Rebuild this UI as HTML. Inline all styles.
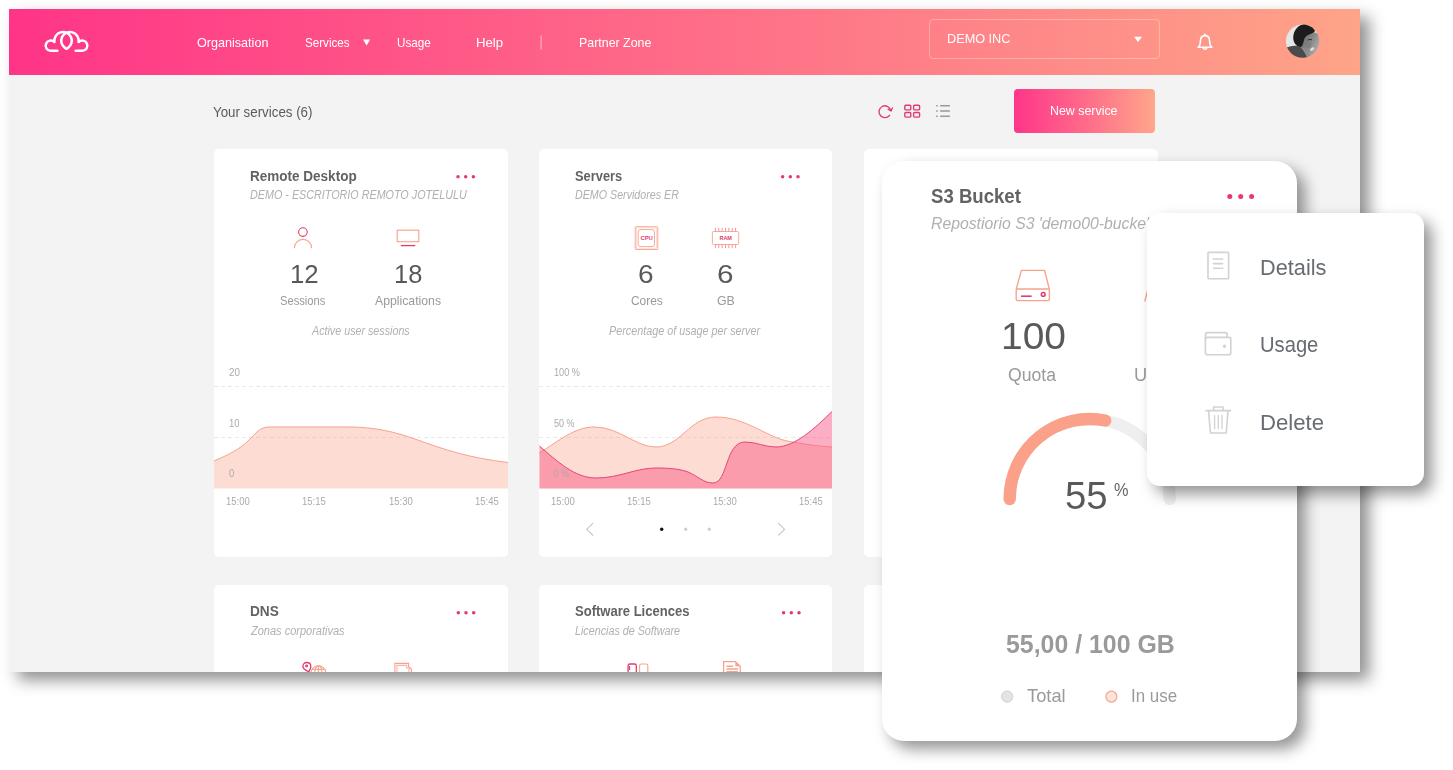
<!DOCTYPE html>
<html><head><meta charset="utf-8"><title>Services dashboard</title>
<style>
*{margin:0;padding:0;box-sizing:border-box}
html,body{width:1453px;height:770px;background:#fff;overflow:hidden}
body{position:relative;font-family:"Liberation Sans",sans-serif}
.t{position:absolute;white-space:nowrap;transform-origin:0 0;display:block;line-height:1;font-family:"Liberation Sans",sans-serif}
#frame{position:absolute;left:9px;top:9px;width:1351px;height:663px;background:#f3f3f3;overflow:hidden;box-shadow:9px 8px 15px rgba(0,0,0,.44)}
#in{position:absolute;left:-9px;top:-9px;width:1453px;height:770px}
#hdr{position:absolute;left:9px;top:9px;width:1351px;height:66px;background:linear-gradient(90deg,#ff3487 0%,#fea488 100%)}
.card{position:absolute;background:#fff;border-radius:5px}
.abs{position:absolute;left:0;top:0;overflow:visible}
#dd{position:absolute;left:929px;top:19px;width:231px;height:40px;border:1px solid rgba(255,255,255,.3);border-radius:4px}
#btn{position:absolute;left:1014px;top:89px;width:141px;height:44px;border-radius:4px;background:linear-gradient(90deg,#ff3589 0%,#ff6a8a 50%,#fea68a 100%)}
#s3{position:absolute;left:882px;top:161px;width:415px;height:580px;background:#fff;border-radius:22px;box-shadow:8px 8px 15px rgba(0,0,0,.42)}
#menu{position:absolute;left:1147px;top:213px;width:277px;height:273px;background:#fff;border-radius:13px;box-shadow:8px 8px 15px rgba(0,0,0,.42)}
</style></head>
<body>
<div id="frame"><div id="in">
<div id="hdr"></div>
<div id="dd"></div>
<div id="btn"></div>
<div class="card" style="left:214px;top:149px;width:294px;height:408px"></div>
<div class="card" style="left:539px;top:149px;width:293px;height:408px"></div>
<div class="card" style="left:864px;top:149px;width:293.5px;height:408px"></div>
<div class="card" style="left:214px;top:585px;width:294px;height:408px"></div>
<div class="card" style="left:539px;top:585px;width:293px;height:408px"></div>
<div class="card" style="left:864px;top:585px;width:293.5px;height:408px"></div>
<svg class="abs" width="1453" height="770" viewBox="0 0 1453 770">
<path d="M57.3,50.87 L50.80,50.87 A5.17,5.17 0 1 1 54.43,42.02 A8.72,8.72 0 1 1 68.00,47.88 Q66.50,49.61 65.00,47.88 A8.72,8.72 0 1 1 78.57,42.02 A5.17,5.17 0 1 1 82.20,50.87 L75.70,50.87" fill="none" stroke="#fff" stroke-width="2.5" stroke-linecap="round" stroke-linejoin="round"/>
<path d="M363,39.6 L370.2,39.6 L366.6,45.6 Z" fill="#fff"/>
<rect x="540.6" y="35.5" width="1" height="14" fill="rgba(255,255,255,.6)"/>
<path d="M1134,36.8 L1142,36.8 L1138,42 Z" fill="#fff"/>
<g fill="none" stroke="#fff" stroke-width="1.6" stroke-linejoin="round" stroke-linecap="round">
<path d="M1198.2,47.2 C1200.4,45.6 1200.4,43.5 1200.4,41.2 C1200.4,37.6 1202.3,35.6 1205,35.6 C1207.7,35.6 1209.6,37.6 1209.6,41.2 C1209.6,43.5 1209.6,45.6 1211.8,47.2 Z"/>
<path d="M1203.2,48 C1203.6,49.6 1206.4,49.6 1206.8,48"/>
<path d="M1205,35.4 L1205,34.2"/>
</g>
<defs><filter id="bl" x="-10%" y="-10%" width="120%" height="120%"><feGaussianBlur stdDeviation="0.55"/></filter><clipPath id="av"><circle cx="1302.5" cy="41.2" r="16.6"/></clipPath>
<linearGradient id="fg" x1="0" y1="0" x2="1" y2="0.6"><stop offset="0" stop-color="#5e5e5e"/><stop offset="0.6" stop-color="#8c8c8c"/><stop offset="1" stop-color="#b4b4b4"/></linearGradient></defs>
<g clip-path="url(#av)"><g transform="translate(1286,24.7)" filter="url(#bl)">
<rect x="-1" y="-1" width="36" height="36" fill="#e6e6e6"/>
<path d="M13,10 C14,6 31,5 35,12 L35,34 L20,34 C17,30 14,24 13,18 Z" fill="url(#fg)"/>
<path d="M7.4,15 C6.6,8 10,1.5 17,-0.5 C23,-1.5 28,1 29,6.5 C27,8.6 24.5,9.4 22,10.2 C19.6,11.2 18.4,13.2 17.8,16 C17.4,18.4 16.6,20.6 15,22.4 C12.4,22.6 8.4,20 7.4,15 Z" fill="#1b1b1b"/>
<path d="M-1,24 C3,21.4 8,20.6 12,21.4 C16,22.6 19,27 21.4,34 L-1,34 Z" fill="#4c4c4c"/>
<path d="M14.6,22.6 C17.4,25 19.6,29 21.4,34 L24.6,34 C23,29.6 21,26 18.4,23.6 Z" fill="#8e8e8e"/>
<ellipse cx="26.2" cy="24.4" rx="2.3" ry="1.3" fill="#e2e2e2" transform="rotate(-35 26.2 24.4)"/>
<path d="M21.6,15.4 C23,14.6 24.6,14.6 26,15.2" stroke="#2a2a2a" stroke-width="1" fill="none"/>
<ellipse cx="22.4" cy="20" rx="2.8" ry="3.4" fill="#7a7a7a" opacity=".6"/>
</g></g>
</svg>
<svg class="abs" width="1453" height="770" viewBox="0 0 1453 770">
<g fill="none" stroke="#e23b6e" stroke-width="1.4" stroke-linecap="round" stroke-linejoin="round">
<path d="M890.6,110.2 A5.9,5.9 0 1 0 889.6,115.3"/>
<path d="M888.2,109.2 L891,111 L892.4,108"/>
<rect x="904.8" y="105.3" width="6" height="4.6" rx="1"/><rect x="913.6" y="105.3" width="6" height="4.6" rx="1"/>
<rect x="904.8" y="112.5" width="6" height="4.6" rx="1"/><rect x="913.6" y="112.5" width="6" height="4.6" rx="1"/>
</g>
<g fill="none" stroke="#9a9a9a" stroke-width="1.4" stroke-linecap="round">
<path d="M940.6,105.8 H949.4 M940.6,111 H949.4 M940.6,116.2 H949.4"/>
<path d="M936.6,105.8 H937.2 M936.6,111 H937.2 M936.6,116.2 H937.2"/>
</g>
<circle cx="458.00" cy="176.7" r="1.75" fill="#e23b6e"/><circle cx="465.70" cy="176.7" r="1.75" fill="#e23b6e"/><circle cx="473.40" cy="176.7" r="1.75" fill="#e23b6e"/><circle cx="782.60" cy="176.7" r="1.75" fill="#e23b6e"/><circle cx="790.30" cy="176.7" r="1.75" fill="#e23b6e"/><circle cx="798.00" cy="176.7" r="1.75" fill="#e23b6e"/><circle cx="458.30" cy="612.7" r="1.75" fill="#e23b6e"/><circle cx="466.00" cy="612.7" r="1.75" fill="#e23b6e"/><circle cx="473.70" cy="612.7" r="1.75" fill="#e23b6e"/><circle cx="783.60" cy="612.7" r="1.75" fill="#e23b6e"/><circle cx="791.30" cy="612.7" r="1.75" fill="#e23b6e"/><circle cx="799.00" cy="612.7" r="1.75" fill="#e23b6e"/>
<g fill="none" stroke-width="1.1">
<circle cx="302.9" cy="232.1" r="4.3" stroke="#e23b6e"/>
<path d="M294.4,248.2 A8.6,8.8 0 0 1 311.6,248.2" stroke="#f7a28d"/>
<rect x="397.2" y="230.2" width="21.6" height="11.5" stroke="#f7a28d"/>
<path d="M400.9,245.6 H415.2" stroke="#e23b6e" stroke-width="1.3"/>
</g>
<g stroke="#e9e9e9" stroke-width="1" stroke-dasharray="4 3"><path d="M214,386.5 H508 M214,437.5 H508"/></g>
<path d="M214,461 C228,455 240,449 248,441 C256,433 260,427 269,427 L349,427 C375,427 395,432 415,439 C445,450 470,458 508,462.5 L508,488.6 L214,488.6 Z" fill="rgba(250,159,134,.36)"/>
<path d="M214,461 C228,455 240,449 248,441 C256,433 260,427 269,427 L349,427 C375,427 395,432 415,439 C445,450 470,458 508,462.5" fill="none" stroke="#f7a28d" stroke-width="1"/>
<g fill="none" stroke-width="0.9" stroke="#f7a28d">
<rect x="635.2" y="226.7" width="22.6" height="22.8" rx="0.6"/>
<rect x="636.4" y="227.9" width="20.2" height="20.4" rx="0.6" stroke-opacity=".45"/>
<rect x="638.2" y="229.6" width="16.3" height="17" rx="2.4"/>
<rect x="712.4" y="231.5" width="26.3" height="13" rx="1.2"/>
<path d="M715.40,227.8 V231.5 M715.40,244.5 V248.2 M718.77,227.8 V231.5 M718.77,244.5 V248.2 M722.14,227.8 V231.5 M722.14,244.5 V248.2 M725.51,227.8 V231.5 M725.51,244.5 V248.2 M728.88,227.8 V231.5 M728.88,244.5 V248.2 M732.25,227.8 V231.5 M732.25,244.5 V248.2 M735.62,227.8 V231.5 M735.62,244.5 V248.2 " stroke="#f0899a"/>
</g>
<text x="646.6" y="240" font-family="Liberation Sans" font-weight="700" font-size="5.2" fill="#e23b6e" text-anchor="middle" textLength="12.4" lengthAdjust="spacingAndGlyphs">CPU</text>
<text x="725.7" y="240" font-family="Liberation Sans" font-weight="700" font-size="5.2" fill="#e23b6e" text-anchor="middle" textLength="12.6" lengthAdjust="spacingAndGlyphs">RAM</text>
<g stroke="#e9e9e9" stroke-width="1" stroke-dasharray="4 3"><path d="M539,386.5 H832 M539,437.5 H832"/></g>
<path d="M539.4,453 C560,440 575,427 594,427 C620,427 635,447 656,447 C680,447 690,417 716,417 C745,417 765,436 787,441 C805,444.5 818,446 832,447 L832,488.6 L539.4,488.6 Z" fill="rgba(250,159,134,.36)"/>
<path d="M539.4,453 C560,440 575,427 594,427 C620,427 635,447 656,447 C680,447 690,417 716,417 C745,417 765,436 787,441 C805,444.5 818,446 832,447" fill="none" stroke="#f7a28d" stroke-width="1"/>
<path d="M539.4,446 C558,462 575,478 596,478 C620,478 635,468 656,468 C670,468 680,469 688,472 C698,476 703,483 713,483 C728,483 725,442 745,442 C757,442 764,447 776,447 C795,447 815,428 832,411.5 L832,488.6 L539.4,488.6 Z" fill="rgba(248,84,130,.47)"/>
<path d="M539.4,446 C558,462 575,478 596,478 C620,478 635,468 656,468 C670,468 680,469 688,472 C698,476 703,483 713,483 C728,483 725,442 745,442 C757,442 764,447 776,447 C795,447 815,428 832,411.5" fill="none" stroke="#e4457a" stroke-width="1"/>
<g fill="none" stroke="#c4c4c4" stroke-width="1.1" stroke-linecap="round" stroke-linejoin="round">
<path d="M592.8,523.4 L586.8,529.3 L592.8,535.2"/><path d="M778.6,523.4 L784.6,529.3 L778.6,535.2"/></g>
<circle cx="661.7" cy="529.2" r="1.7" fill="#111"/><circle cx="685.7" cy="529.2" r="1.6" fill="#ccc"/><circle cx="709.2" cy="529.2" r="1.6" fill="#ccc"/>
<g fill="none" stroke-width="1.1">
<path d="M306.8,662.5 C309.4,662.5 310.8,664.4 310.8,666.4 C310.8,668.6 309.6,670 308.8,671.8 C306,670.4 302.9,669 302.9,666.4 C302.9,664.4 304.4,662.5 306.8,662.5 Z" stroke="#e23b6e" stroke-width="1.3"/>
<circle cx="306.6" cy="666" r="0.9" stroke="#e23b6e"/>
<circle cx="318.4" cy="673.2" r="7.4" stroke="#f7a28d"/><path d="M318.4,665.8 V673 M312.2,669.4 H324.6 M314.8,673 C314.8,669 316.4,666.2 318.4,665.8 C320.4,666.2 322,669 322,673" stroke="#f7a28d"/>
<path d="M394.9,673 V663.4 H408.6 V666.4 L411.4,669 V673" stroke="#f7a28d"/><path d="M397,673 V665.4 H406.6 V668 H409 V673" stroke="#f7a28d" stroke-opacity=".8"/>
<rect x="628.1" y="664" width="8.2" height="12" rx="1.8" stroke="#e23b6e" stroke-width="1.3"/><path d="M629.6,666 V670" stroke="#e23b6e"/><rect x="639.6" y="664" width="8.2" height="12" rx="1.8" stroke="#f7a28d"/>
<path d="M723.6,673 V661.6 H735.4 L740.2,666.2 V673" stroke="#f7a28d" stroke-width="1.3"/><path d="M735.4,661.6 V666.2 H740.2 Z" fill="#f7a28d" stroke="none"/><path d="M726.4,666.2 H733 M726.4,669 H738 M726.4,671.6 H738" stroke="#f7a28d" stroke-width="1.4"/>
</g>
</svg>
<span class="t" style="left:196.50px;top:35.80px;font-size:13px;color:#fff;transform:scaleX(0.9690);">Organisation</span>
<span class="t" style="left:305.30px;top:35.80px;font-size:13px;color:#fff;transform:scaleX(0.8958);">Services</span>
<span class="t" style="left:397.40px;top:35.80px;font-size:13px;color:#fff;transform:scaleX(0.8996);">Usage</span>
<span class="t" style="left:475.68px;top:35.80px;font-size:13px;color:#fff;transform:scaleX(1.0154);">Help</span>
<span class="t" style="left:579.05px;top:35.80px;font-size:13px;color:#fff;transform:scaleX(0.9539);">Partner Zone</span>
<span class="t" style="left:946.52px;top:32.20px;font-size:13px;color:#fff;transform:scaleX(0.9762);">DEMO INC</span>
<span class="t" style="left:1050.05px;top:104.20px;font-size:13px;color:#fff;transform:scaleX(0.9531);">New service</span>
<span class="t" style="left:213.00px;top:104.55px;font-size:14px;color:#5a5a5a;transform:scaleX(0.9513);">Your services (6)</span>
<span class="t" style="left:250.20px;top:168.55px;font-size:14px;font-weight:700;color:#626365;transform:scaleX(0.9653);">Remote Desktop</span>
<span class="t" style="left:574.90px;top:168.55px;font-size:14px;font-weight:700;color:#626365;transform:scaleX(0.9187);">Servers</span>
<span class="t" style="left:250.30px;top:603.95px;font-size:14px;font-weight:700;color:#626365;transform:scaleX(0.9753);">DNS</span>
<span class="t" style="left:575.00px;top:603.95px;font-size:14px;font-weight:700;color:#626365;transform:scaleX(0.9306);">Software Licences</span>
<span class="t" style="left:250.00px;top:189.14px;font-size:12px;font-style:italic;color:#b0b0b0;transform:scaleX(0.8974);">DEMO - ESCRITORIO REMOTO JOTELULU</span>
<span class="t" style="left:574.90px;top:189.14px;font-size:12px;font-style:italic;color:#b0b0b0;transform:scaleX(0.8904);">DEMO Servidores ER</span>
<span class="t" style="left:250.92px;top:624.64px;font-size:12px;font-style:italic;color:#b0b0b0;transform:scaleX(0.9171);">Zonas corporativas</span>
<span class="t" style="left:575.00px;top:624.64px;font-size:12px;font-style:italic;color:#b0b0b0;transform:scaleX(0.8945);">Licencias de Software</span>
<span class="t" style="left:289.51px;top:260.89px;font-size:26px;color:#58595b;transform:scaleX(0.9905);">12</span>
<span class="t" style="left:394.42px;top:260.89px;font-size:26px;color:#58595b;transform:scaleX(0.9796);">18</span>
<span class="t" style="left:638.32px;top:260.89px;font-size:26px;color:#58595b;transform:scaleX(1.0769);">6</span>
<span class="t" style="left:717.46px;top:260.89px;font-size:26px;color:#58595b;transform:scaleX(1.1385);">6</span>
<span class="t" style="left:280.00px;top:293.90px;font-size:13px;color:#9a9a9a;transform:scaleX(0.8582);">Sessions</span>
<span class="t" style="left:374.90px;top:293.90px;font-size:13px;color:#9a9a9a;transform:scaleX(0.9420);">Applications</span>
<span class="t" style="left:630.60px;top:293.90px;font-size:13px;color:#9a9a9a;transform:scaleX(0.9182);">Cores</span>
<span class="t" style="left:717.10px;top:293.90px;font-size:13px;color:#9a9a9a;transform:scaleX(0.9497);">GB</span>
<span class="t" style="left:312.29px;top:324.74px;font-size:12px;font-style:italic;color:#b0b0b0;transform:scaleX(0.8933);">Active user sessions</span>
<span class="t" style="left:609.40px;top:324.74px;font-size:12px;font-style:italic;color:#b0b0b0;transform:scaleX(0.8989);">Percentage of usage per server</span>
<span class="t" style="left:228.60px;top:367.84px;font-size:10px;color:#ababab;transform:scaleX(0.9860);">20</span>
<span class="t" style="left:229.00px;top:418.64px;font-size:10px;color:#ababab;transform:scaleX(0.9514);">10</span>
<span class="t" style="left:228.60px;top:468.64px;font-size:10px;color:#ababab;transform:scaleX(0.9500);">0</span>
<span class="t" style="left:553.90px;top:367.84px;font-size:10px;color:#ababab;transform:scaleX(0.9170);">100 %</span>
<span class="t" style="left:553.70px;top:418.64px;font-size:10px;color:#ababab;transform:scaleX(0.8995);">50 %</span>
<span class="t" style="left:553.70px;top:468.64px;font-size:10px;color:#ababab;transform:scaleX(0.8593);">0 %</span>
<span class="t" style="left:225.90px;top:496.64px;font-size:10px;color:#ababab;transform:scaleX(0.9504);">15:00</span>
<span class="t" style="left:302.30px;top:496.64px;font-size:10px;color:#ababab;transform:scaleX(0.9504);">15:15</span>
<span class="t" style="left:388.60px;top:496.64px;font-size:10px;color:#ababab;transform:scaleX(0.9504);">15:30</span>
<span class="t" style="left:474.90px;top:496.64px;font-size:10px;color:#ababab;transform:scaleX(0.9504);">15:45</span>
<span class="t" style="left:550.80px;top:496.64px;font-size:10px;color:#ababab;transform:scaleX(0.9504);">15:00</span>
<span class="t" style="left:627.10px;top:496.64px;font-size:10px;color:#ababab;transform:scaleX(0.9504);">15:15</span>
<span class="t" style="left:713.40px;top:496.64px;font-size:10px;color:#ababab;transform:scaleX(0.9504);">15:30</span>
<span class="t" style="left:799.40px;top:496.64px;font-size:10px;color:#ababab;transform:scaleX(0.9504);">15:45</span>
</div></div>
<div style="position:absolute;left:2px;top:75px;width:10px;height:597px;background:linear-gradient(90deg,#fff 0%,#fafafa 35%,#f5f5f5 65%,#f2f2f2 88%,#f3f3f3 100%)"></div>
<div id="s3">
<svg class="abs" style="left:-882px;top:-161px" width="1453" height="770" viewBox="0 0 1453 770">
<circle cx="1229.80" cy="196.5" r="2.5" fill="#e23b6e"/><circle cx="1240.70" cy="196.5" r="2.5" fill="#e23b6e"/><circle cx="1251.60" cy="196.5" r="2.5" fill="#e23b6e"/>
<g fill="none" stroke="#f7a28d" stroke-width="1.4" stroke-linejoin="round">
<path d="M1016.2,289.4 L1021.4,270.4 H1044.6 L1049.4,289.4"/>
<rect x="1016.2" y="289" width="33.2" height="11.6" rx="1.6"/>
<path d="M1144.8,301.6 L1147.4,291"/>
</g>
<path d="M1021,296.2 H1031.6" stroke="#e23b6e" stroke-width="1.6" fill="none"/>
<circle cx="1043.2" cy="294.4" r="1.9" stroke="#e23b6e" stroke-width="1.5" fill="none"/>
<path d="M1009.7,499.0 A80.0,80.0 0 0 1 1169.7,499.0" fill="none" stroke="#efefef" stroke-width="12.4" stroke-linecap="round"/>
<path d="M1009.7,499.0 A80.0,80.0 0 0 1 1105.18,420.51" fill="none" stroke="#fba189" stroke-width="12.4" stroke-linecap="round"/>
<circle cx="1007.2" cy="696.6" r="5.6" fill="#e4e4e4" stroke="#cfcfcf" stroke-width="1"/>
<circle cx="1111.4" cy="696.6" r="5.5" fill="#fde3db" stroke="#f7a28d" stroke-width="1.2"/>
</svg>
<div style="position:absolute;left:-882px;top:-161px;width:0;height:0">
<span class="t" style="left:930.50px;top:185.77px;font-size:20px;font-weight:700;color:#626365;transform:scaleX(0.9294);">S3 Bucket</span>
<span class="t" style="left:931.00px;top:215.11px;font-size:17px;font-style:italic;color:#b0b0b0;transform:scaleX(0.9274);">Repostiorio S3 'demo00-bucke'</span>
<span class="t" style="left:1001.30px;top:318.38px;font-size:37px;color:#58595b;transform:scaleX(1.0515);">100</span>
<span class="t" style="left:1008.00px;top:365.76px;font-size:18px;color:#9a9a9a;transform:scaleX(0.9795);">Quota</span>
<span class="t" style="left:1134.49px;top:365.76px;font-size:18px;color:#9a9a9a;transform:scaleX(1.0123);">Used</span>
<span class="t" style="left:1065.29px;top:476.83px;font-size:38px;color:#58595b;transform:scaleX(1.0091);">55</span>
<span class="t" style="left:1114.00px;top:480.32px;font-size:19px;color:#666;transform:scaleX(0.8588);">%</span>
<span class="t" style="left:1005.60px;top:632.14px;font-size:25px;font-weight:700;color:#9a9a9a;transform:scaleX(0.9952);">55,00 / 100 GB</span>
<span class="t" style="left:1026.70px;top:685.72px;font-size:19px;color:#9a9a9a;transform:scaleX(0.9637);">Total</span>
<span class="t" style="left:1130.61px;top:685.72px;font-size:19px;color:#9a9a9a;transform:scaleX(0.8906);">In use</span>
</div>
</div>
<div id="menu">
<svg class="abs" style="left:-1147px;top:-213px" width="1453" height="770" viewBox="0 0 1453 770">
<g fill="none" stroke="#d2d2d2" stroke-width="1.6" stroke-linejoin="round" stroke-linecap="round">
<rect x="1208" y="252.4" width="20.6" height="26.4" rx="0.8"/>
<path d="M1213.4,259 H1222.6 M1213.4,263.6 H1222.6 M1213.4,268.2 H1220 M1221.6,268.2 H1222.6"/>
<path d="M1205.4,339 V335 Q1205.4,332.6 1207.8,332.6 H1225 Q1227.2,332.6 1227.2,335 V337.6"/>
<rect x="1205.4" y="337.4" width="25.4" height="17.4" rx="2"/>
<circle cx="1224.6" cy="346.2" r="0.9" fill="#d2d2d2"/>
<path d="M1206,410.6 H1230.6"/>
<path d="M1213.6,410.4 V407 H1223 V410.4"/>
<path d="M1208.6,411 L1210.4,433 H1226.2 L1228,411"/>
<path d="M1214.6,415.4 V428.6 M1218.3,415.4 V428.6 M1222,415.4 V428.6" stroke-width="1.3"/>
</g>
</svg>
<div style="position:absolute;left:-1147px;top:-213px;width:0;height:0">
<span class="t" style="left:1259.61px;top:257.28px;font-size:22px;color:#676b72;transform:scaleX(0.9872);">Details</span>
<span class="t" style="left:1259.68px;top:334.18px;font-size:22px;color:#676b72;transform:scaleX(0.9173);">Usage</span>
<span class="t" style="left:1259.59px;top:411.68px;font-size:22px;color:#676b72;transform:scaleX(1.0071);">Delete</span>
</div>
</div>
</body></html>
